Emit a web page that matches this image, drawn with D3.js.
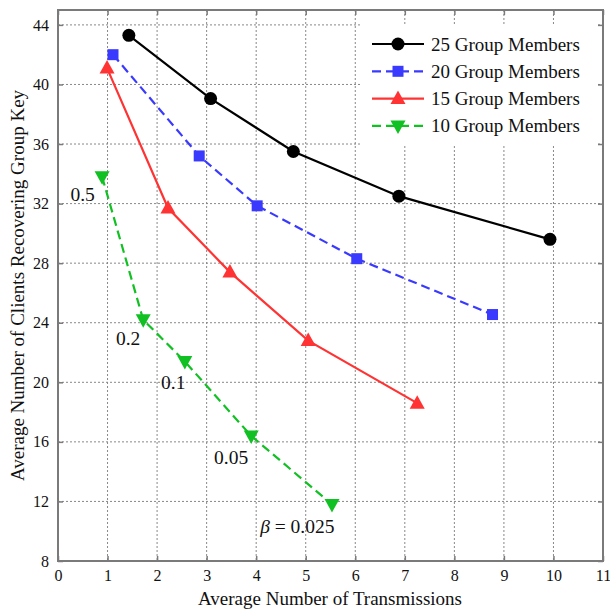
<!DOCTYPE html>
<html><head><meta charset="utf-8">
<script src="https://cdn.jsdelivr.net/npm/d3@7"></script>
<style>body{margin:0;background:#fff;} svg text{font-family:'Liberation Serif','Times New Roman',Times,'DejaVu Serif',serif !important;}</style>
</head><body><svg id="c" width="610" height="609"></svg>
<script>
const xTicks = [0,1,2,3,4,5,6,7,8,9,10,11];
const yTicks = [8,12,16,20,24,28,32,36,40,44];
const seriesNames = ["25 Group Members","20 Group Members","15 Group Members","10 Group Members"];
const x25 = [1.43,3.08,4.75,6.88,9.93];
const y25 = [43.3,39.05,35.5,32.5,29.6];
const x20 = [1.11,2.85,4.02,6.03,8.77];
const y20 = [42.0,35.2,31.85,28.3,24.55];
const x15 = [0.99,2.22,3.47,5.05,7.25];
const y15 = [41.1,31.7,27.4,22.8,18.6];
const x10 = [0.89,1.72,2.56,3.9,5.53];
const y10 = [33.8,24.2,21.4,16.4,11.8];
const betaLabels = ["0.5","0.2","0.1","0.05","β = 0.025"];

const FONT = "'Liberation Serif','Times New Roman',Times,serif";
const svg = d3.select("#c").attr("font-family",FONT);
const L=58,R=603,T=10,B=561;
const x = d3.scaleLinear().domain([0,11]).range([L,R]);
const y = d3.scaleLinear().domain([8,45]).range([B,T]);
const frame="#7a7a7a";

// grid
const g = svg.append("g");
g.selectAll("line.gx").data(xTicks.slice(1,-1)).join("line")
 .attr("x1",d=>x(d)).attr("x2",d=>x(d)).attr("y1",T).attr("y2",B)
 .attr("stroke","#888").attr("stroke-width",1).attr("stroke-dasharray","2,2");
g.selectAll("line.gy").data(yTicks.slice(1)).join("line")
 .attr("y1",d=>y(d)).attr("y2",d=>y(d)).attr("x1",L).attr("x2",R)
 .attr("stroke","#888").attr("stroke-width",1).attr("stroke-dasharray","2,2");

// axes
const ax = svg.append("g").attr("transform",`translate(0,${B})`)
 .call(d3.axisBottom(x).tickValues(xTicks).tickSize(-5).tickPadding(9));
const ay = svg.append("g").attr("transform",`translate(${L},0)`)
 .call(d3.axisLeft(y).tickValues(yTicks).tickSize(-5).tickPadding(9));
const axT = svg.append("g").attr("transform",`translate(0,${T})`)
 .call(d3.axisTop(x).tickValues(xTicks).tickSize(-5).tickFormat(""));
const ayR = svg.append("g").attr("transform",`translate(${R},0)`)
 .call(d3.axisRight(y).tickValues(yTicks).tickSize(-5).tickFormat(""));
[ax,ay,axT,ayR].forEach(a=>{
  a.attr("font-family",FONT);
  a.select(".domain").remove();
  a.selectAll("line").attr("stroke",frame).attr("stroke-width",1.5);
  a.selectAll("text").attr("font-size",16).attr("fill","#111");
});
svg.append("rect").attr("x",L).attr("y",T).attr("width",R-L).attr("height",B-T)
 .attr("fill","none").attr("stroke",frame).attr("stroke-width",2);

// axis titles
svg.append("text").attr("x",330).attr("y",605).attr("text-anchor","middle")
 .attr("font-size",19).attr("fill","#111").text("Average Number of Transmissions");
svg.append("text").attr("transform",`translate(24,${(T+B)/2}) rotate(-90)`).attr("text-anchor","middle")
 .attr("font-size",19).attr("fill","#111").text("Average Number of Clients Recovering Group Key");

const series = [
 {name:seriesNames[0],xs:x25,ys:y25,color:"#000000",dash:null,marker:"circle"},
 {name:seriesNames[1],xs:x20,ys:y20,color:"#3a3aff",dash:"9,5",marker:"square"},
 {name:seriesNames[2],xs:x15,ys:y15,color:"#ff3333",dash:null,marker:"triUp"},
 {name:seriesNames[3],xs:x10,ys:y10,color:"#11c022",dash:"9,5",marker:"triDown"}
];
function drawMarker(sel,type,color){
  if(type==="circle") sel.append("circle").attr("r",6.5).attr("fill",color);
  else if(type==="square") sel.append("rect").attr("x",-5.5).attr("y",-5.5).attr("width",11).attr("height",11).attr("fill",color);
  else if(type==="triUp") sel.append("path").attr("d","M0,-8L7.5,5.5L-7.5,5.5Z").attr("fill",color);
  else sel.append("path").attr("d","M0,8L7.5,-5.5L-7.5,-5.5Z").attr("fill",color);
}
const line = d3.line().x(d=>x(d[0])).y(d=>y(d[1]));
series.forEach(s=>{
  const pts = s.xs.map((v,i)=>[v,s.ys[i]]);
  svg.append("path").datum(pts).attr("d",line).attr("fill","none")
   .attr("stroke",s.color).attr("stroke-width",2.2).attr("stroke-dasharray",s.dash);
  pts.forEach(p=>{
    const m = svg.append("g").attr("transform",`translate(${x(p[0])},${y(p[1])})`);
    drawMarker(m,s.marker,s.color);
  });
});

// beta annotations
const annX = [0.25, 1.17, 2.08, 3.15, 4.08];
const annY = [32.2, 22.5, 19.55, 14.5, 9.9];
betaLabels.forEach((t,i)=>{
  const tx = svg.append("text").attr("x",x(annX[i])).attr("y",y(annY[i])).attr("font-size",19.5).attr("fill","#111");
  if(i===4){
    tx.append("tspan").attr("font-style","italic").text("β");
    tx.append("tspan").text(" = 0.025");
  } else tx.text(t);
});

// legend
const lg = svg.append("g");
lg.append("rect").attr("x",362).attr("y",24).attr("width",234).attr("height",122).attr("fill","#fff");
series.forEach((s,i)=>{
  const yy = 44 + i*27.3;
  lg.append("line").attr("x1",372).attr("x2",424).attr("y1",yy).attr("y2",yy)
   .attr("stroke",s.color).attr("stroke-width",2.2).attr("stroke-dasharray",s.dash);
  const m = lg.append("g").attr("transform",`translate(398,${yy})`);
  drawMarker(m,s.marker,s.color);
  lg.append("text").attr("x",431).attr("y",yy+6.5).attr("font-size",19).attr("fill","#111").text(s.name);
});
</script></body></html>
